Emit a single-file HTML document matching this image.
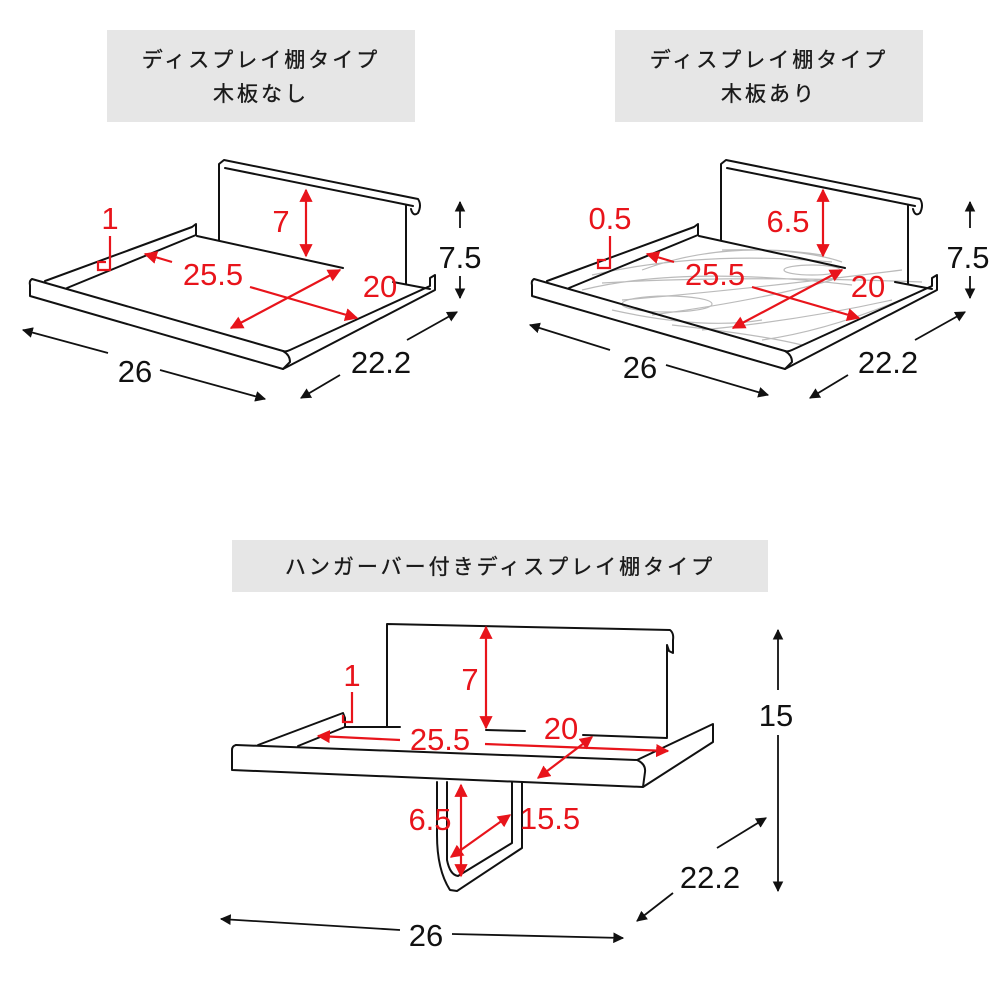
<!DOCTYPE html>
<html><head><meta charset="utf-8"><style>
html,body{margin:0;padding:0;background:#fff;width:1000px;height:1000px;overflow:hidden}
svg{display:block}
.hd{font-family:"Liberation Sans","Noto Sans CJK JP",sans-serif;font-size:21px;fill:#1a1a1a;stroke:#1a1a1a;stroke-width:0.35;letter-spacing:3px}
.k{stroke:#111;stroke-width:2;fill:none;stroke-linejoin:round;stroke-linecap:round}
.r{stroke:#e8141b;stroke-width:2.2;fill:none}
.rt{font-family:"Liberation Sans",sans-serif;fill:#e8141b;font-size:31px;text-anchor:middle}
.bt{font-family:"Liberation Sans",sans-serif;fill:#111;font-size:31px;text-anchor:middle}
.bl{stroke:#111;stroke-width:1.8;fill:none}
.g{stroke:#bbb;stroke-width:1.2;fill:none}
</style></head><body>
<svg width="1000" height="1000" viewBox="0 0 1000 1000" xmlns="http://www.w3.org/2000/svg">
<defs>
<marker id="ra" viewBox="0 0 10 10" refX="9" refY="5" markerWidth="6" markerHeight="6" orient="auto-start-reverse"><path d="M0,0 L10,5 L0,10z" fill="#e8141b"/></marker>
<marker id="ka" viewBox="0 0 10 10" refX="9" refY="5" markerWidth="6" markerHeight="6" orient="auto-start-reverse"><path d="M0,0 L10,5 L0,10z" fill="#111"/></marker>
</defs>
<rect x="107" y="30" width="308" height="92" fill="#e6e6e6"/>
<text class="hd" x="261" y="67" text-anchor="middle">ディスプレイ棚タイプ</text>
<text class="hd" x="261" y="101" text-anchor="middle">木板なし</text>
<rect x="615" y="30" width="308" height="92" fill="#e6e6e6"/>
<text class="hd" x="769" y="67" text-anchor="middle">ディスプレイ棚タイプ</text>
<text class="hd" x="769" y="101" text-anchor="middle">木板あり</text>
<rect x="232" y="540" width="536" height="52" fill="#e6e6e6"/>
<text class="hd" x="500" y="574" text-anchor="middle">ハンガーバー付きディスプレイ棚タイプ</text>

<g id="s1">
<path class="k" d="M219,240 V164 L224,160 L418,199 Q422,205 418,213 Q413,217 411,209 M225,168 L413,206 M406,205 V284"/>
<path class="k" d="M32,279 Q29,281 30,285 V296 L283,369 L435,290 V275 L430,278 V286 L290,350 Q286,352 283,351 L32,279 Z"/>
<path class="k" d="M283,351 Q290,355 290,362 L283,369"/>
<path class="k" d="M45,281 L192,227 L196,224 V235 L67,288"/>
<path class="k" d="M197,236 L343,268 M393,282 L430,289"/>
</g>
<g transform="translate(502,0)">
<g class="g">
<path d="M90,275 Q200,250 330,262 M80,290 Q180,265 350,285 M120,300 Q240,290 400,270 M150,315 Q260,300 330,280 M200,330 Q300,320 390,300 M110,310 Q200,330 260,320 M260,340 Q330,330 410,295 M140,270 Q220,240 320,255 M100,283 Q230,275 420,282 M170,325 Q260,335 300,345 M220,250 Q300,248 340,262"/>
<ellipse cx="165" cy="304" rx="45" ry="8"/><ellipse cx="310" cy="270" rx="28" ry="5"/>
</g>
<path class="k" d="M219,240 V164 L224,160 L418,199 Q422,205 418,213 Q413,217 411,209 M225,168 L413,206 M406,205 V284"/>
<path class="k" d="M32,279 Q29,281 30,285 V296 L283,369 L435,290 V275 L430,278 V286 L290,350 Q286,352 283,351 L32,279 Z"/>
<path class="k" d="M283,351 Q290,355 290,362 L283,369"/>
<path class="k" d="M45,281 L192,227 L196,224 V235 L67,288"/>
<path class="k" d="M197,236 L343,268 M393,282 L430,289"/>
</g>

<text class="rt" x="110" y="229">1</text>
<path class="r" d="M110,236 V270 H98 V262 H106"/>
<path class="r" d="M172,262 L145,254" marker-end="url(#ra)"/>
<text class="rt" x="213" y="285">25.5</text>
<path class="r" d="M250,287 L357,318" marker-end="url(#ra)"/>
<path class="r" d="M231,328 L340,270" marker-start="url(#ra)" marker-end="url(#ra)"/>
<text class="rt" x="380" y="297">20</text>
<path class="r" d="M306,190 V256" marker-start="url(#ra)" marker-end="url(#ra)"/>
<text class="rt" x="281" y="232">7</text>
<path class="bl" d="M460,228 V202" marker-end="url(#ka)"/><path class="bl" d="M460,276 V298" marker-end="url(#ka)"/>
<text class="bt" x="460" y="268">7.5</text>
<path class="bl" d="M108,353 L23,330" marker-end="url(#ka)"/><path class="bl" d="M160,370 L265,399" marker-end="url(#ka)"/>
<text class="bt" x="135" y="382">26</text>
<path class="bl" d="M407,340 L457,312" marker-end="url(#ka)"/><path class="bl" d="M340,375 L301,398" marker-end="url(#ka)"/>
<text class="bt" x="381" y="373">22.2</text>

<text class="rt" x="610" y="229">0.5</text>
<path class="r" d="M610,236 V268 H598 V260 H606"/>
<path class="r" d="M674,262 L647,254" marker-end="url(#ra)"/>
<text class="rt" x="715" y="285">25.5</text>
<path class="r" d="M752,287 L859,318" marker-end="url(#ra)"/>
<path class="r" d="M733,328 L842,270" marker-start="url(#ra)" marker-end="url(#ra)"/>
<text class="rt" x="868" y="297">20</text>
<path class="r" d="M823,190 V256" marker-start="url(#ra)" marker-end="url(#ra)"/>
<text class="rt" x="788" y="232">6.5</text>
<path class="bl" d="M970,228 V202" marker-end="url(#ka)"/><path class="bl" d="M970,276 V298" marker-end="url(#ka)"/>
<text class="bt" x="968" y="268">7.5</text>
<path class="bl" d="M610,350 L530,325" marker-end="url(#ka)"/><path class="bl" d="M666,365 L768,395" marker-end="url(#ka)"/>
<text class="bt" x="640" y="378">26</text>
<path class="bl" d="M915,340 L965,312" marker-end="url(#ka)"/><path class="bl" d="M848,375 L810,398" marker-end="url(#ka)"/>
<text class="bt" x="888" y="373">22.2</text>

<path class="k" d="M387,727 V624 L670,630 Q674,633 673,640 V653 L669,651 L667,645 V737"/>
<path class="k" d="M236,745 Q232,746 232,750 V770 L643,787 L713,742 V724 L637,760 Q646,764 645,772 L643,787"/>
<path class="k" d="M236,745 L637,760"/>
<path class="k" d="M258,745 L343,713 L345,718 V727 L298,746"/>
<path class="k" d="M345,727 L400,727 M486,730 L525,731 M583,735 L667,738"/>
<path class="k" d="M437,782 V835 Q437,870 450,890 L457,891 L522,848 V782 M447,782 V860 Q450,875 458,876 L512,843 V782"/>

<text class="rt" x="352" y="686">1</text>
<path class="r" d="M352,692 V722 H343 V715"/>
<path class="r" d="M486,627 V728" marker-start="url(#ra)" marker-end="url(#ra)"/>
<text class="rt" x="470" y="690">7</text>
<path class="r" d="M400,740 L318,736" marker-end="url(#ra)"/>
<text class="rt" x="440" y="750">25.5</text>
<path class="r" d="M485,744 L668,751" marker-end="url(#ra)"/>
<text class="rt" x="561" y="739">20</text>
<path class="r" d="M592,737 L538,778" marker-start="url(#ra)" marker-end="url(#ra)"/>
<path class="r" d="M461,785 V876" marker-start="url(#ra)" marker-end="url(#ra)"/>
<text class="rt" x="430" y="830">6.5</text>
<path class="r" d="M451,857 L510,815" marker-start="url(#ra)" marker-end="url(#ra)"/>
<text class="rt" x="550" y="829">15.5</text>

<path class="bl" d="M778,690 V630" marker-end="url(#ka)"/><path class="bl" d="M778,735 V891" marker-end="url(#ka)"/>
<text class="bt" x="776" y="726">15</text>
<path class="bl" d="M717,848 L766,818" marker-end="url(#ka)"/><path class="bl" d="M673,893 L637,921" marker-end="url(#ka)"/>
<text class="bt" x="710" y="888">22.2</text>
<path class="bl" d="M400,930 L221,919" marker-end="url(#ka)"/><path class="bl" d="M452,934 L623,938" marker-end="url(#ka)"/>
<text class="bt" x="426" y="946">26</text>
</svg>
</body></html>
